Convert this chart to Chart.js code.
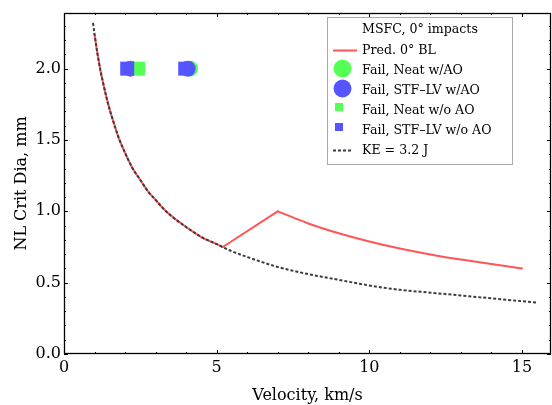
<!DOCTYPE html>
<html>
<head>
<meta charset="utf-8">
<script src="https://cdn.jsdelivr.net/npm/chart.js@4/dist/chart.umd.min.js"></script>
<style>
  html, body { margin: 0; padding: 0; background: #fff; }
  #wrap { width: 552px; height: 405px; }
</style>
</head>
<body>
<div id="wrap"><canvas id="c" width="552" height="405"></canvas></div>
<script>
// Kinetic-energy limit curve, KE = 3.2 J (velocity km/s, diameter mm)
const keVel = [0.95, 1.0, 1.1, 1.2, 1.25, 1.4, 1.5, 1.6, 1.75, 1.8, 2.0, 2.25, 2.5, 2.75, 3.0, 3.25, 3.5, 4.0, 4.5, 5.0, 5.5, 6.0, 7.0, 8.0, 9.0, 10.0, 11.0, 12.0, 13.0, 14.0, 15.0, 15.5];
const keDia = [2.32, 2.24, 2.10, 1.98, 1.93, 1.79, 1.71, 1.64, 1.54, 1.51, 1.41, 1.30, 1.22, 1.14, 1.08, 1.02, 0.97, 0.89, 0.82, 0.77, 0.72, 0.68, 0.61, 0.56, 0.52, 0.48, 0.45, 0.43, 0.41, 0.39, 0.37, 0.36];

// Predicted 0° ballistic limit: low-velocity branch, shatter ramp, hypervelocity branch
const predLowVel = [1.0, 1.1, 1.2, 1.25, 1.4, 1.5, 1.6, 1.75, 1.8, 2.0, 2.25, 2.5, 2.75, 3.0, 3.25, 3.5, 4.0, 4.5, 5.0, 5.2];
const predLowDia = [2.24, 2.10, 1.98, 1.93, 1.79, 1.71, 1.64, 1.54, 1.51, 1.41, 1.30, 1.22, 1.14, 1.08, 1.02, 0.97, 0.89, 0.82, 0.77, 0.75];
const rampVel = [5.2, 7.0];
const rampDia = [0.75, 1.0];
const predHighVel = [7.0, 8.0, 9.0, 10.0, 11.0, 12.0, 13.0, 14.0, 15.0];
const predHighDia = [1.0, 0.915, 0.846, 0.788, 0.74, 0.698, 0.662, 0.63, 0.60];

// MSFC test failures
const neatAOVel = [4.13];
const neatAODia = [2.0];
const stfAOVel = [2.18, 4.05];
const stfAODia = [2.0, 2.0];
const neatNoAOVel = [2.43];
const neatNoAODia = [2.0];
const stfNoAOVel = [2.07, 3.97];
const stfNoAODia = [2.0, 2.0];

const xTickValues = [0, 5, 10, 15];
const yTickValues = [0.0, 0.5, 1.0, 1.5, 2.0];

const RED = 'rgb(255,85,85)';
const GREEN = 'rgb(85,255,85)';
const BLUE = 'rgb(85,85,255)';
const DOT = 'rgb(60,60,60)';
const FONT = '"DejaVu Serif", serif';

const pts = (xs, ys) => xs.map((x, i) => ({ x: x, y: ys[i] }));

const lineBase = { showLine: true, pointRadius: 0, pointHoverRadius: 0, fill: false };

// square side = 2 * radius * sqrt(1/2) in Chart.js' 'rect' style
const SQUARE_R = 9.9;

const datasets = [
  { label: 'Fail, STF–LV w/o AO', data: pts(stfNoAOVel, stfNoAODia), backgroundColor: BLUE, borderWidth: 0,
    pointStyle: 'rect', pointRadius: SQUARE_R, showLine: false, order: 1 },
  { label: 'Fail, Neat w/o AO', data: pts(neatNoAOVel, neatNoAODia), backgroundColor: GREEN, borderWidth: 0,
    pointStyle: 'rect', pointRadius: SQUARE_R, showLine: false, order: 2 },
  { label: 'Fail, STF–LV w/AO', data: pts(stfAOVel, stfAODia), backgroundColor: BLUE, borderWidth: 0,
    pointStyle: 'circle', pointRadius: 8, showLine: false, order: 3 },
  { label: 'Fail, Neat w/AO', data: pts(neatAOVel, neatAODia), backgroundColor: GREEN, borderWidth: 0,
    pointStyle: 'circle', pointRadius: 8, showLine: false, order: 4 },
  Object.assign({ label: 'KE = 3.2 J', data: pts(keVel, keDia), borderColor: DOT, borderWidth: 2,
    borderDash: [3, 2], cubicInterpolationMode: 'monotone', order: 5 }, lineBase),
  Object.assign({ label: 'Pred. 0° BL', data: pts(predLowVel, predLowDia), borderColor: RED, borderWidth: 2,
    cubicInterpolationMode: 'monotone', borderCapStyle: 'round', order: 6 }, lineBase),
  Object.assign({ label: 'Pred. 0° BL ramp', data: pts(rampVel, rampDia), borderColor: RED, borderWidth: 2,
    borderCapStyle: 'round', tension: 0, order: 7 }, lineBase),
  Object.assign({ label: 'Pred. 0° BL high', data: pts(predHighVel, predHighDia), borderColor: RED, borderWidth: 2,
    cubicInterpolationMode: 'monotone', borderCapStyle: 'round', order: 8 }, lineBase)
];

// Closed frame with small inward major/minor ticks on all four sides
const framePlugin = {
  id: 'frame',
  afterDatasetsDraw(chart) {
    const { ctx, chartArea: a, scales } = chart;
    const xs = scales.x, ys = scales.y;
    ctx.save();
    ctx.strokeStyle = '#000';
    ctx.lineWidth = 1;
    ctx.beginPath();
    for (let v = 0; v <= 15; v += 1) {
      const px = Math.round(xs.getPixelForValue(v)) + 0.5;
      const len = (v % 5 === 0) ? 4 : 2;
      ctx.moveTo(px, a.bottom); ctx.lineTo(px, a.bottom - len);
      ctx.moveTo(px, a.top); ctx.lineTo(px, a.top + len);
    }
    for (let i = 0; i <= 23; i++) {
      const v = i / 10;
      const py = Math.round(ys.getPixelForValue(v)) + 0.5;
      const len = (i % 5 === 0) ? 4 : 2;
      ctx.moveTo(a.left, py); ctx.lineTo(a.left + len, py);
      ctx.moveTo(a.right, py); ctx.lineTo(a.right - len, py);
    }
    ctx.stroke();
    ctx.lineWidth = 1.3;
    ctx.strokeRect(a.left + 0.5, a.top + 0.5, a.right - a.left - 1, a.bottom - a.top - 1);
    ctx.restore();
  }
};

// Boxed legend drawn inside the plot area
const legendPlugin = {
  id: 'boxLegend',
  afterDraw(chart) {
    const { ctx } = chart;
    const ds = chart.data.datasets;
    const byLabel = l => ds.find(d => d.label === l);
    const bx = 327, by = 17, bw = 185, bh = 147;
    ctx.save();
    ctx.fillStyle = '#fff';
    ctx.fillRect(bx, by, bw, bh);
    ctx.strokeStyle = '#aaa';
    ctx.lineWidth = 1;
    ctx.strokeRect(bx + 0.5, by + 0.5, bw, bh);
    ctx.font = '12.6px ' + FONT;
    ctx.fillStyle = '#000';
    ctx.textBaseline = 'middle';
    const tx = 362;
    const rows = [
      { text: 'MSFC, 0° impacts', y: 29 },
      { text: 'Pred. 0° BL', y: 50, kind: 'line', ds: byLabel('Pred. 0° BL') },
      { text: 'Fail, Neat w/AO', y: 70, kind: 'pt', ds: byLabel('Fail, Neat w/AO') },
      { text: 'Fail, STF–LV w/AO', y: 90, kind: 'pt', ds: byLabel('Fail, STF–LV w/AO') },
      { text: 'Fail, Neat w/o AO', y: 110, kind: 'pt', ds: byLabel('Fail, Neat w/o AO') },
      { text: 'Fail, STF–LV w/o AO', y: 130, kind: 'pt', ds: byLabel('Fail, STF–LV w/o AO') },
      { text: 'KE = 3.2 J', y: 150, kind: 'line', ds: byLabel('KE = 3.2 J') }
    ];
    rows.forEach(r => {
      ctx.fillStyle = '#000';
      ctx.fillText(r.text, tx, r.y + 1);
      if (r.kind === 'line') {
        ctx.strokeStyle = r.ds.borderColor;
        ctx.lineWidth = r.ds.borderWidth;
        ctx.setLineDash(r.ds.borderDash || []);
        ctx.beginPath();
        ctx.moveTo(333, r.y + 0.5);
        ctx.lineTo(r.ds.borderDash ? 353 : 357, r.y + 0.5);
        ctx.stroke();
        ctx.setLineDash([]);
      } else if (r.kind === 'pt') {
        ctx.fillStyle = r.ds.backgroundColor;
        if (r.ds.pointStyle === 'circle') {
          ctx.beginPath();
          ctx.arc(342.5, r.y - 1.5, 9, 0, Math.PI * 2);
          ctx.fill();
        } else {
          ctx.fillRect(335, r.y - 7, 8, 8);
        }
      }
    });
    ctx.restore();
  }
};

new Chart(document.getElementById('c'), {
  type: 'scatter',
  data: { datasets: datasets },
  options: {
    responsive: false,
    animation: false,
    events: [],
    layout: { autoPadding: false, padding: { left: 0, top: 13, right: 1, bottom: 0 } },
    plugins: { legend: { display: false }, tooltip: { enabled: false } },
    scales: {
      x: {
        type: 'linear', min: 0, max: 15.95,
        afterFit(s) { s.height = 51; s.paddingLeft = 0; s.paddingRight = 0; },
        afterBuildTicks(s) { s.ticks = xTickValues.map(v => ({ value: v })); },
        grid: { display: false, drawTicks: false },
        border: { display: false },
        ticks: { color: '#000', font: { family: FONT, size: 16 }, padding: 4, maxRotation: 0,
          callback: v => String(v) },
        title: { display: true, text: 'Velocity, km/s', color: '#000',
          font: { family: FONT, size: 16 }, padding: { top: 0, bottom: 0 } }
      },
      y: {
        type: 'linear', min: 0, max: 2.39,
        afterFit(s) { s.width = 64; s.paddingTop = 0; s.paddingBottom = 0; },
        afterBuildTicks(s) { s.ticks = yTickValues.map(v => ({ value: v })); },
        grid: { display: false, drawTicks: false },
        border: { display: false },
        ticks: { color: '#000', font: { family: FONT, size: 16 }, padding: 3,
          callback: v => Number(v).toFixed(1) },
        title: { display: true, text: 'NL Crit Dia, mm', color: '#000',
          font: { family: FONT, size: 16 }, padding: { top: 12, bottom: 0 } }
      }
    }
  },
  plugins: [framePlugin, legendPlugin]
});
</script>
</body>
</html>
